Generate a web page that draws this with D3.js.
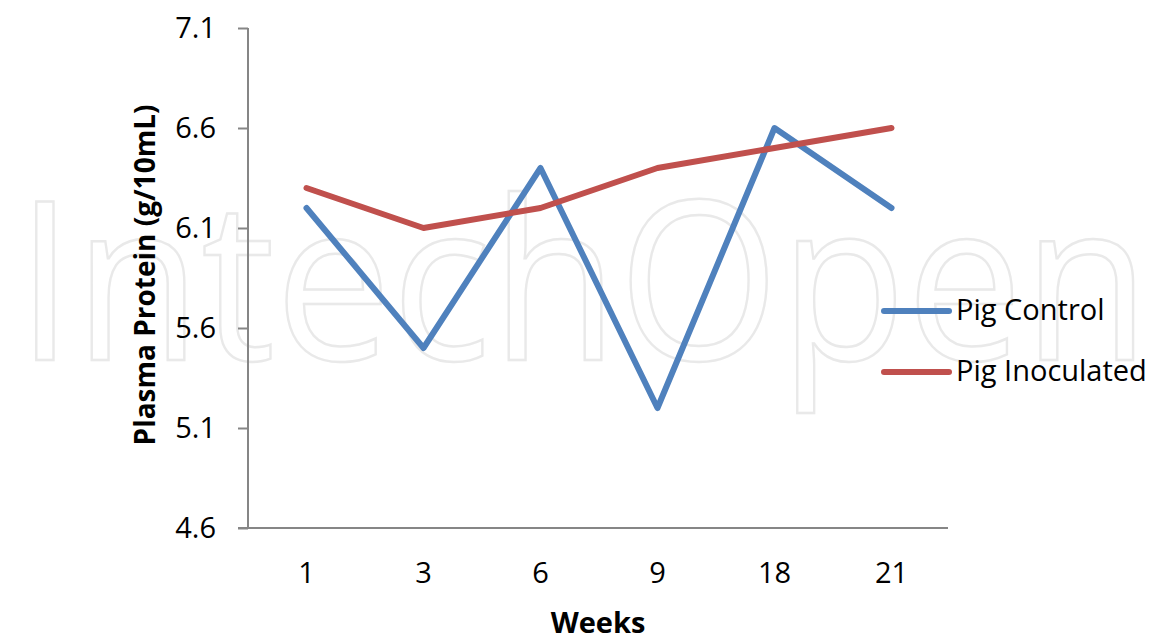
<!DOCTYPE html>
<html>
<head>
<meta charset="utf-8">
<script src="https://cdn.jsdelivr.net/npm/d3@7"></script>
<style>
  html, body { margin: 0; padding: 0; background: #fff; }
  svg { display: block; }
  text { font-family: "Open Sans", Lato, sans-serif; }
</style>
</head>
<body>
<svg id="chart" width="1156" height="637"></svg>
<script>
// Plasma protein over the weeks of the trial
const weeks = ["1", "3", "6", "9", "18", "21"];
const pigControl = [6.2, 5.5, 6.4, 5.2, 6.6, 6.2];
const pigInoculated = [6.3, 6.1, 6.2, 6.4, 6.5, 6.6];
const seriesNames = ["Pig Control", "Pig Inoculated"];
const yTicks = [4.6, 5.1, 5.6, 6.1, 6.6, 7.1];

const colors = ["#4F81BD", "#C0504D"];
const fontSize = "29px";
const svg = d3.select("#chart");

// Publisher watermark behind the plot
svg.append("text")
  .attr("x", 16).attr("y", 360)
  .attr("textLength", 1134)
  .attr("lengthAdjust", "spacingAndGlyphs")
  .style("font-weight", 400)
  .style("font-size", "222px")
  .attr("fill", "none")
  .attr("stroke", "#e9e9e9")
  .attr("stroke-width", 2.5)
  .text("IntechOpen");

const plotLeft = 248, plotRight = 950, plotTop = 28, plotBottom = 528;

const x = d3.scaleBand().domain(weeks).range([plotLeft, plotRight]);
const y = d3.scaleLinear().domain([4.6, 7.1]).range([plotBottom, plotTop]);

// Y axis
const yAxis = svg.append("g")
  .attr("transform", `translate(${plotLeft},0)`)
  .call(d3.axisLeft(y).tickValues(yTicks).tickSize(10).tickPadding(22).tickFormat(d3.format(".1f")));
yAxis.select(".domain").attr("stroke", "#868686").attr("stroke-width", 2)
  .attr("d", `M0,${plotTop}H0V${plotBottom}`);
yAxis.selectAll(".tick line").attr("stroke", "#868686").attr("stroke-width", 2);
yAxis.selectAll(".tick text").attr("fill", "#000").style("font-size", fontSize)
  .style("font-family", "'Open Sans', sans-serif");

// X axis
const xAxis = svg.append("g")
  .attr("transform", `translate(0,${plotBottom})`)
  .call(d3.axisBottom(x).tickSize(0).tickPadding(34));
xAxis.select(".domain").attr("stroke", "#868686").attr("stroke-width", 2)
  .attr("d", `M${plotLeft - 10},0H${plotRight - 2}`);
xAxis.selectAll(".tick text").attr("fill", "#000").style("font-size", fontSize)
  .style("font-family", "'Open Sans', sans-serif");

// Axis titles
svg.append("text")
  .attr("x", 598).attr("y", 633)
  .attr("text-anchor", "middle")
  .style("font-size", fontSize).style("font-weight", "bold")
  .text("Weeks");

svg.append("text")
  .attr("transform", `translate(155,275) rotate(-90)`)
  .attr("text-anchor", "middle")
  .style("font-size", "28px").style("font-weight", "bold")
  .text("Plasma Protein (g/10mL)");

// Series lines
const line = d3.line()
  .x((d, i) => x(weeks[i]) + x.bandwidth() / 2)
  .y(d => y(d));

[pigControl, pigInoculated].forEach((vals, k) => {
  svg.append("path")
    .datum(vals)
    .attr("d", line)
    .attr("fill", "none")
    .attr("stroke", colors[k])
    .attr("stroke-width", 6)
    .attr("stroke-linejoin", "round")
    .attr("stroke-linecap", "round");
});

// Legend
const legend = svg.append("g");
seriesNames.forEach((name, k) => {
  const ly = 311 + k * 61;
  legend.append("line")
    .attr("x1", 884).attr("x2", 949)
    .attr("y1", ly).attr("y2", ly)
    .attr("stroke", colors[k])
    .attr("stroke-width", 6)
    .attr("stroke-linecap", "round");
  legend.append("text")
    .attr("x", 956).attr("y", ly + 9)
    .style("font-size", fontSize)
    .text(name);
});
</script>
</body>
</html>
